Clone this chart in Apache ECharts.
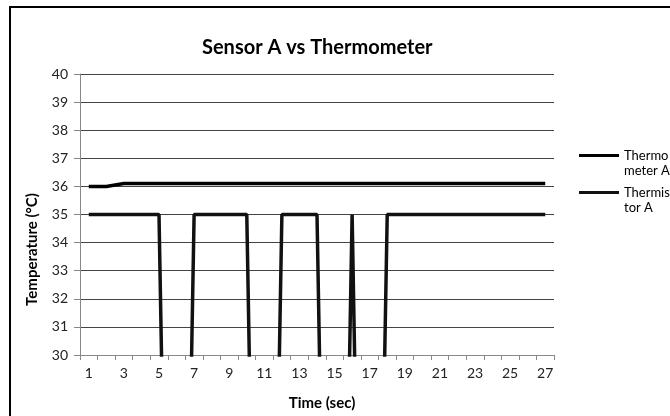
<!DOCTYPE html>
<html lang="en">
<head>
    <meta charset="UTF-8">
    <title>Sensor A vs Thermometer</title>
    <script type="text/javascript" src="https://cdn.jsdelivr.net/npm/echarts@6/dist/echarts.min.js"></script>
    <style>
        html, body { margin: 0; padding: 0; background: #fff; }
    </style>
</head>
<body>
<div id="main" style="width:670px;height:416px;"></div>

<script type="text/javascript">
    // 时间 (sec)
    var timeSec = [1, 2, 3, 4, 5, 6, 7, 8, 9, 10, 11, 12, 13, 14, 15, 16, 17, 18, 19, 20, 21, 22, 23, 24, 25, 26, 27];
    // Thermometer A
    var thermometerA = [36, 36, 36.1, 36.1, 36.1, 36.1, 36.1, 36.1, 36.1, 36.1, 36.1, 36.1, 36.1, 36.1,
        36.1, 36.1, 36.1, 36.1, 36.1, 36.1, 36.1, 36.1, 36.1, 36.1, 36.1, 36.1, 36.1];
    // Thermistor A (drops to 0 are clipped below 30)
    var thermistorA = [35, 35, 35, 35, 35, 0, 35, 35, 35, 35, 0, 35, 35, 35, 0, 35, 0, 35,
        35, 35, 35, 35, 35, 35, 35, 35, 35];
    var seriesNames = ['Thermometer A', 'Thermistor A'];
    // 图例文字换行，前面加空行让线条对齐第一行
    var legendLabels = { 'Thermometer A': ' \nThermo\nmeter A', 'Thermistor A': ' \nThermis\ntor A' };

    var font = 'Lato';
    var myChart = echarts.init(document.getElementById('main'));

    var option = {
        backgroundColor: '#fff',
        animation: false,
        title: {
            text: 'Sensor A vs Thermometer',
            left: 197,
            top: 33,
            textStyle: { fontFamily: font, fontSize: 20, fontWeight: 'bold', color: '#000' }
        },
        // 外框
        graphic: [{
            type: 'rect',
            shape: { x: 10, y: 7, width: 700, height: 450 },
            style: { fill: 'none', stroke: '#000', lineWidth: 2 },
            silent: true
        }],
        legend: {
            orient: 'vertical',
            left: 574,
            top: 128,
            itemGap: -8,
            itemWidth: 40,
            itemHeight: 3,
            icon: 'rect',
            data: seriesNames,
            formatter: function (name) { return legendLabels[name]; },
            textStyle: { fontFamily: font, fontSize: 13, color: '#000', lineHeight: 15 }
        },
        grid: {
            left: 80,
            right: 116,
            top: 74,
            bottom: 54,
            containLabel: false
        },
        xAxis: {
            type: 'category',
            data: timeSec,
            boundaryGap: true,
            name: 'Time (sec)',
            nameLocation: 'middle',
            nameGap: 41,
            nameTextStyle: { fontFamily: font, fontSize: 15, fontWeight: 'bold', color: '#000', padding: [0, 0, 0, 10] },
            axisLine: { lineStyle: { color: '#888', width: 1 } },
            axisTick: { show: true, interval: 0, length: 5, lineStyle: { color: '#888' } },
            axisLabel: { interval: 1, margin: 11, fontFamily: font, fontSize: 14, color: '#222' },
            splitLine: { show: false }
        },
        yAxis: {
            type: 'value',
            min: 30,
            max: 40,
            interval: 1,
            name: 'Temperature (°C)',
            nameLocation: 'middle',
            nameGap: 40,
            nameTextStyle: { fontFamily: font, fontSize: 15, fontWeight: 'bold', color: '#000', padding: [0, 70, 0, 0] },
            axisLine: { show: true, lineStyle: { color: '#888', width: 1 } },
            axisTick: { show: true, length: 6, lineStyle: { color: '#888' } },
            axisLabel: { margin: 12, fontFamily: font, fontSize: 14, color: '#222' },
            splitLine: { show: true, lineStyle: { color: '#444', width: 1 } }
        },
        series: [{
            name: seriesNames[0],
            type: 'line',
            data: thermometerA,
            symbol: 'none',
            clip: true,
            lineStyle: { color: '#000', width: 3.5 },
            itemStyle: { color: '#000' }
        }, {
            name: seriesNames[1],
            type: 'line',
            data: thermistorA,
            symbol: 'none',
            clip: true,
            lineStyle: { color: '#111', width: 3.5 },
            itemStyle: { color: '#111' }
        }]
    };
    myChart.setOption(option);
</script>
</body>
</html>
